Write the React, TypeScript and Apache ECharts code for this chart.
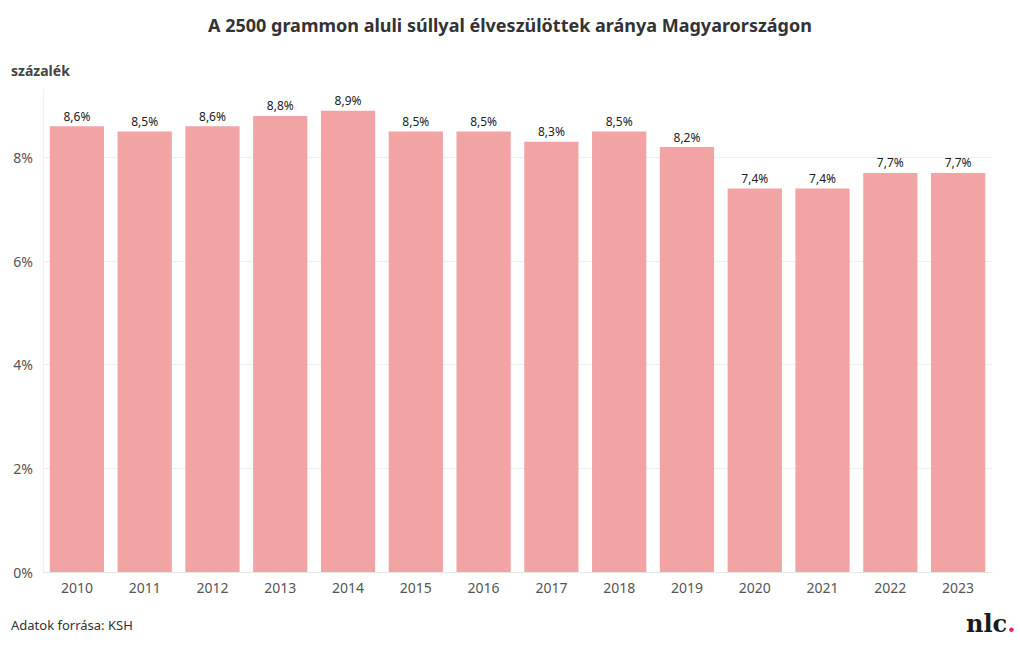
import React, { useEffect, useRef } from "react";
import * as echarts from "echarts";

const years = ["2010", "2011", "2012", "2013", "2014", "2015", "2016", "2017", "2018", "2019", "2020", "2021", "2022", "2023"];
const values = [8.6, 8.5, 8.6, 8.8, 8.9, 8.5, 8.5, 8.3, 8.5, 8.2, 7.4, 7.4, 7.7, 7.7];
const yTicks = [0, 2, 4, 6, 8];

const FONT = "'Noto Sans', Roboto, sans-serif";

export default function App() {
  const ref = useRef<HTMLDivElement>(null);
  useEffect(() => {
    if (!ref.current) return;
    const chart = echarts.init(ref.current, undefined, { renderer: "svg" });
    chart.setOption({
      animation: false,
      backgroundColor: "#ffffff",
      textStyle: { fontFamily: FONT },
      title: {
        text: "A 2500 grammon aluli súllyal élveszülöttek aránya Magyarországon",
        left: "center",
        top: 11,
        textStyle: { fontSize: 18, fontWeight: "bold", color: "#333333", fontFamily: FONT },
      },
      grid: { left: 43, right: 28, top: 90, bottom: 78, containLabel: false },
      xAxis: {
        type: "category",
        data: years,
        axisLine: { show: true, lineStyle: { color: "#e6e6e6" } },
        axisTick: { show: false },
        axisLabel: { color: "#555555", fontSize: 14, margin: 8, fontFamily: FONT },
      },
      yAxis: {
        type: "value",
        min: 0,
        max: 9.3,
        interval: 2,
        axisLine: { show: true, lineStyle: { color: "#efefef" } },
        axisTick: { show: false },
        splitLine: { show: true, showMaxLine: false, lineStyle: { color: "#eeeeee" } },
        axisLabel: {
          color: "#555555",
          fontSize: 14,
          margin: 10,
          fontFamily: FONT,
          showMaxLabel: false,
          formatter: (v: number) => (yTicks.includes(v) ? `${v}%` : ""),
        },
      },
      series: [
        {
          type: "bar",
          data: values,
          barCategoryGap: "20%",
          itemStyle: { color: "#f2a3a4" },
          label: {
            show: true,
            position: "top",
            distance: 4,
            color: "#222222",
            fontSize: 12,
            fontFamily: FONT,
            formatter: (p: any) => `${String(p.value.toFixed(1)).replace(".", ",")}%`,
          },
        },
      ],
      graphic: [
        {
          type: "text",
          left: 11,
          top: 63,
          style: { text: "százalék", fontSize: 14, fontWeight: "bold", fill: "#444444", fontFamily: FONT },
        },
        {
          type: "text",
          left: 11,
          top: 618,
          style: { text: "Adatok forrása: KSH", fontSize: 13, fill: "#333333", fontFamily: FONT },
        },
        {
          type: "text",
          left: 966,
          top: 611,
          style: {
            text: "{a|nlc}{b|.}",
            rich: {
              a: { fontSize: 24, fontWeight: "bold", fill: "#1a1a1a", fontFamily: "'DejaVu Serif', 'Liberation Serif', serif" },
              b: { fontSize: 24, fontWeight: "bold", fill: "#e0245e", fontFamily: "'DejaVu Serif', 'Liberation Serif', serif" },
            },
          },
        },
      ],
    });
    return () => chart.dispose();
  }, []);
  return <div ref={ref} style={{ width: 1020, height: 650, position: "absolute", left: 0, top: 0 }} />;
}
